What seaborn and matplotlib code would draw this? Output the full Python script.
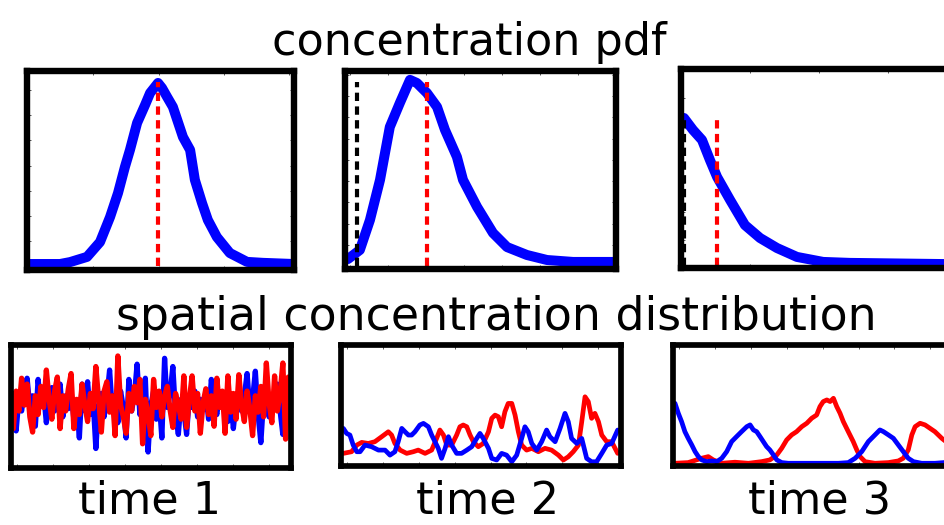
import numpy as np
import pandas as pd
import matplotlib
matplotlib.use("Agg")
import matplotlib.pyplot as plt
import seaborn as sns

sns.set_theme(style="white")
plt.rcParams['font.family'] = ['DejaVu Sans']
plt.rcParams['text.color'] = 'black'

# ---------------- data ----------------
# concentration pdfs (x: normalised concentration, y: normalised density)
pdf1_x = [0.0, 0.117, 0.155, 0.219, 0.268, 0.306, 0.336, 0.362, 0.381, 0.408, 0.438, 0.457,
          0.472, 0.487, 0.502, 0.521, 0.543, 0.581, 0.608, 0.626, 0.653, 0.675, 0.709, 0.758,
          0.823, 0.883, 1.0]
pdf1_y = [0.01, 0.01, 0.02, 0.047, 0.124, 0.254, 0.378, 0.513, 0.601, 0.741, 0.834, 0.896,
          0.922, 0.948, 0.922, 0.876, 0.824, 0.668, 0.601, 0.446, 0.326, 0.238, 0.150, 0.067,
          0.021, 0.016, 0.01]
pdf2_x = [0.0, 0.045, 0.083, 0.121, 0.158, 0.196, 0.234, 0.260, 0.298, 0.336, 0.366, 0.411,
          0.434, 0.487, 0.547, 0.600, 0.675, 0.751, 0.849, 1.0]
pdf2_y = [0.036, 0.083, 0.238, 0.446, 0.720, 0.845, 0.964, 0.948, 0.896, 0.824, 0.705, 0.565,
          0.446, 0.306, 0.171, 0.098, 0.057, 0.031, 0.021, 0.021]
pdf3_x = [0.0, 0.034, 0.068, 0.098, 0.125, 0.174, 0.230, 0.287, 0.351, 0.426, 0.525, 0.626,
          0.977, 1.0]
pdf3_y = [0.767, 0.705, 0.653, 0.549, 0.461, 0.342, 0.212, 0.145, 0.093, 0.047, 0.021, 0.016,
          0.010, 0.010]
mean_x = [0.487, 0.298, 0.123]        # red dashed: mean concentration
mean_h = [0.953, 0.953, 0.756]
zero_x = [None, 0.033, 0.0]           # black dashed: zero concentration
zero_h = [None, 0.953, 0.767]

# spatial distributions
t1_red = [0.30, 0.62, 0.45, 0.73, 0.50, 0.68, 0.40, 0.27, 0.58, 0.42, 0.66, 0.48, 0.80, 0.55,
          0.38, 0.62, 0.74, 0.30, 0.58, 0.45, 0.64, 0.77, 0.30, 0.55, 0.42, 0.68, 0.50, 0.36,
          0.60, 0.47, 0.83, 0.55, 0.27, 0.62, 0.70, 0.44, 0.58, 0.24, 0.92, 0.50, 0.40, 0.26,
          0.60, 0.45, 0.66, 0.52, 0.72, 0.17, 0.55, 0.42, 0.24, 0.72, 0.48, 0.62, 0.40, 0.58,
          0.66, 0.46, 0.31, 0.60, 0.50, 0.38, 0.75, 0.31, 0.55, 0.75, 0.45, 0.60, 0.26, 0.52,
          0.64, 0.42, 0.58, 0.32, 0.73, 0.48, 0.62, 0.26, 0.75, 0.44, 0.60, 0.38, 0.76, 0.50,
          0.36, 0.62, 0.47, 0.24, 0.58, 0.44, 0.66, 0.40, 0.86, 0.52, 0.35, 0.75, 0.45, 0.60,
          0.86, 0.21, 0.74]
t1_blue = [0.60, 0.28, 0.55, 0.45, 0.62, 0.73, 0.48, 0.58, 0.32, 0.72, 0.50, 0.60, 0.35, 0.55,
           0.65, 0.45, 0.52, 0.68, 0.40, 0.58, 0.47, 0.62, 0.38, 0.52, 0.22, 0.68, 0.45, 0.70,
           0.42, 0.55, 0.13, 0.50, 0.60, 0.40, 0.56, 0.80, 0.45, 0.58, 0.35, 0.62, 0.48, 0.22,
           0.72, 0.45, 0.58, 0.85, 0.42, 0.60, 0.73, 0.10, 0.50, 0.62, 0.38, 0.55, 0.22, 0.90,
           0.48, 0.60, 0.83, 0.42, 0.25, 0.55, 0.45, 0.25, 0.58, 0.48, 0.62, 0.40, 0.55, 0.46,
           0.60, 0.38, 0.72, 0.50, 0.42, 0.60, 0.48, 0.55, 0.36, 0.58, 0.30, 0.52, 0.62, 0.45,
           0.58, 0.77, 0.46, 0.55, 0.79, 0.42, 0.18, 0.55, 0.64, 0.40, 0.58, 0.48, 0.68, 0.45,
           0.25, 0.58, 0.50]
t1_x = list(np.arange(len(t1_red)) / (len(t1_red) - 1))

t2_red_x = [0.000, 0.030, 0.049, 0.067, 0.091, 0.115, 0.140, 0.164, 0.176, 0.188, 0.207, 0.231,
            0.255, 0.273, 0.298, 0.322, 0.340, 0.352, 0.365, 0.377, 0.395, 0.413, 0.425, 0.437,
            0.450, 0.462, 0.474, 0.492, 0.510, 0.529, 0.541, 0.553, 0.565, 0.577, 0.589, 0.601,
            0.614, 0.626, 0.638, 0.650, 0.668, 0.687, 0.711, 0.735, 0.759, 0.784, 0.802, 0.820,
            0.838, 0.857, 0.869, 0.881, 0.893, 0.905, 0.917, 0.930, 0.942, 0.960, 0.978, 1.000]
t2_red_y = [0.086, 0.100, 0.157, 0.180, 0.171, 0.186, 0.229, 0.271, 0.243, 0.171, 0.114, 0.086,
            0.100, 0.114, 0.086, 0.114, 0.214, 0.286, 0.243, 0.157, 0.157, 0.243, 0.314, 0.329,
            0.314, 0.243, 0.186, 0.143, 0.171, 0.271, 0.386, 0.414, 0.400, 0.314, 0.443, 0.514,
            0.514, 0.414, 0.271, 0.157, 0.114, 0.129, 0.100, 0.129, 0.114, 0.071, 0.029, 0.057,
            0.100, 0.157, 0.357, 0.571, 0.529, 0.386, 0.429, 0.357, 0.243, 0.186, 0.186, 0.086]
t2_blue_x = [0.000, 0.012, 0.024, 0.036, 0.049, 0.061, 0.079, 0.103, 0.128, 0.152, 0.170, 0.188,
             0.200, 0.213, 0.225, 0.237, 0.249, 0.261, 0.279, 0.292, 0.310, 0.322, 0.334, 0.346,
             0.358, 0.371, 0.383, 0.395, 0.413, 0.431, 0.450, 0.468, 0.486, 0.498, 0.510, 0.529,
             0.541, 0.559, 0.577, 0.595, 0.614, 0.632, 0.650, 0.662, 0.674, 0.687, 0.705, 0.723,
             0.741, 0.753, 0.772, 0.790, 0.808, 0.820, 0.832, 0.851, 0.869, 0.887, 0.905, 0.923,
             0.942, 0.960, 0.978, 1.000]
t2_blue_y = [0.300, 0.257, 0.243, 0.157, 0.100, 0.100, 0.157, 0.143, 0.114, 0.114, 0.071, 0.100,
             0.186, 0.300, 0.271, 0.243, 0.243, 0.271, 0.329, 0.343, 0.314, 0.243, 0.186, 0.129,
             0.043, 0.129, 0.229, 0.157, 0.086, 0.086, 0.114, 0.143, 0.214, 0.257, 0.214, 0.129,
             0.043, 0.029, 0.086, 0.071, 0.014, 0.071, 0.214, 0.314, 0.271, 0.171, 0.114, 0.186,
             0.286, 0.229, 0.186, 0.300, 0.429, 0.357, 0.214, 0.171, 0.214, 0.043, 0.014, 0.014,
             0.086, 0.157, 0.171, 0.286]

t3_blue_x = [0.000, 0.012, 0.024, 0.036, 0.048, 0.061, 0.073, 0.085, 0.097, 0.115, 0.133, 0.152,
             0.170, 0.188, 0.206, 0.224, 0.242, 0.261, 0.273, 0.285, 0.297, 0.309, 0.321, 0.333,
             0.345, 0.358, 0.370, 0.388, 0.412, 0.473, 0.533, 0.594, 0.630, 0.655, 0.679, 0.703,
             0.727, 0.745, 0.758, 0.776, 0.794, 0.812, 0.830, 0.848, 0.867, 0.897, 0.945, 0.978,
             1.000]
t3_blue_y = [0.514, 0.429, 0.357, 0.271, 0.214, 0.157, 0.100, 0.057, 0.029, 0.014, 0.020, 0.014,
             0.043, 0.100, 0.186, 0.229, 0.271, 0.314, 0.329, 0.286, 0.271, 0.229, 0.186, 0.143,
             0.114, 0.071, 0.029, 0.006, 0.0, 0.0, 0.0, 0.0, 0.006, 0.043, 0.100, 0.186,
             0.243, 0.286, 0.271, 0.243, 0.214, 0.157, 0.100, 0.043, 0.014, 0.0, 0.0, 0.006,
             0.014]
t3_red_x = [0.000, 0.048, 0.097, 0.121, 0.139, 0.170, 0.218, 0.267, 0.315, 0.345, 0.370, 0.388,
            0.406, 0.424, 0.442, 0.461, 0.479, 0.497, 0.515, 0.527, 0.539, 0.552, 0.564, 0.576,
            0.588, 0.600, 0.612, 0.630, 0.648, 0.661, 0.673, 0.691, 0.727, 0.776, 0.812, 0.830,
            0.848, 0.861, 0.873, 0.891, 0.909, 0.927, 0.945, 0.970, 1.000]
t3_red_y = [0.0, 0.006, 0.043, 0.057, 0.029, 0.0, 0.009, 0.0, 0.014, 0.029, 0.071, 0.129,
            0.200, 0.243, 0.271, 0.314, 0.343, 0.386, 0.414, 0.486, 0.529, 0.543, 0.529, 0.557,
            0.486, 0.429, 0.357, 0.271, 0.186, 0.114, 0.057, 0.014, 0.0, 0.006, 0.020, 0.043,
            0.114, 0.243, 0.314, 0.343, 0.329, 0.300, 0.271, 0.214, 0.157]

top_titles = "concentration pdf"
mid_title = "spatial concentration distribution"
time_labels = ["time 1", "time 2", "time 3"]

# ---------------- figure ----------------
W, H = 944, 525
fig = plt.figure(figsize=(W / 100, H / 100), dpi=100)

def px_axes(x0, x1, y0, y1):
    return fig.add_axes([x0 / W, 1 - y1 / H, (x1 - x0) / W, (y1 - y0) / H])

def frame(ax, lw, xticks, yticks):
    for s in ax.spines.values():
        s.set_visible(True)
        s.set_color('black')
        s.set_linewidth(lw)
        s.set_capstyle('projecting')
        s.set_zorder(5)
    ax.set_xticks(xticks)
    ax.set_yticks(yticks)
    ax.tick_params(direction='in', length=3, width=0.7, color='#555555',
                   top=True, bottom=True, left=True, right=True,
                   labelbottom=False, labelleft=False)
    ax.set_xlabel('')
    ax.set_ylabel('')
    ax.set_facecolor('white')

BLUE, RED = '#0000ff', '#ff0000'

top_boxes = [(26.7, 293.7, 71.2, 270.0), (345.0, 616.3, 71.2, 268.8), (680.8, 952.0, 68.8, 268.3)]
top_lims = [((-0.0087, 0.999), (-0.021, 1.009)),
            ((-0.011, 1.012), (-0.0145, 1.009)),
            ((-0.012, 1.011), (-0.012, 1.022))]
top_ticks = [(np.arange(-0.005, 1.0, 0.247), np.arange(0, 1.0, 0.13)),
             (np.arange(0.008, 1.0, 0.1435), np.arange(0, 1.0, 0.11)),
             (np.arange(-0.011, 1.0, 0.26), np.arange(-0.012, 1.0, 0.147))]
pdfs = [(pdf1_x, pdf1_y), (pdf2_x, pdf2_y), (pdf3_x, pdf3_y)]

for i in range(3):
    ax = px_axes(*top_boxes[i])
    px, py = pdfs[i]
    sns.lineplot(x=px, y=py, ax=ax, color=BLUE, linewidth=7.2, sort=False, estimator=None, zorder=2)
    if zero_x[i] is not None:
        sns.lineplot(x=[zero_x[i], zero_x[i]], y=[0, zero_h[i]], ax=ax, color='black',
                     linewidth=3.0, sort=False, estimator=None, zorder=3)
        ax.lines[-1].set_dashes((2.0, 1.3))
    sns.lineplot(x=[mean_x[i], mean_x[i]], y=[0, mean_h[i]], ax=ax, color=RED,
                 linewidth=3.0, sort=False, estimator=None, zorder=4)
    ax.lines[-1].set_dashes((2.0, 1.3))
    ax.set_xlim(*top_lims[i][0])
    ax.set_ylim(*top_lims[i][1])
    frame(ax, 4.6, *top_ticks[i])

bot_boxes = [(11.2, 291.2, 344.5, 467.8), (340.5, 620.5, 344.5, 466.2), (672.8, 952.8, 345.0, 466.3)]
bot_lims = [((-0.0078, 1.0104), (-0.035, 1.018)),
            ((-0.0103, 1.0103), (-0.024, 1.019)),
            ((-0.008, 1.010), (-0.026, 1.014))]
series = [
    [(t1_x, t1_blue, BLUE), (t1_x, t1_red, RED)],
    [(t2_red_x, t2_red_y, RED), (t2_blue_x, t2_blue_y, BLUE)],
    [(t3_red_x, t3_red_y, RED), (t3_blue_x, t3_blue_y, BLUE)],
]
bot_lw = [3.8, 3.4, 3.4]
for i in range(3):
    ax = px_axes(*bot_boxes[i])
    for sx, sy, c in series[i]:
        sns.lineplot(x=sx, y=sy, ax=ax, color=c, linewidth=bot_lw[i], sort=False, estimator=None)
    ax.set_xlim(*bot_lims[i][0])
    ax.set_ylim(*bot_lims[i][1])
    frame(ax, 4.1, np.arange(0.015, 1.0, 0.1305), [])

fig.text(469.5 / W, 1 - 55 / H, top_titles, ha='center', va='baseline', fontsize=32, color='black')
fig.text(496 / W, 1 - 330 / H, mid_title, ha='center', va='baseline', fontsize=33, color='black')
for cx, lab in zip([150, 488, 820], time_labels):
    fig.text(cx / W, 1 - 514 / H, lab, ha='center', va='baseline', fontsize=32, color='black')

fig.savefig("out.png", dpi=100, facecolor='white')
